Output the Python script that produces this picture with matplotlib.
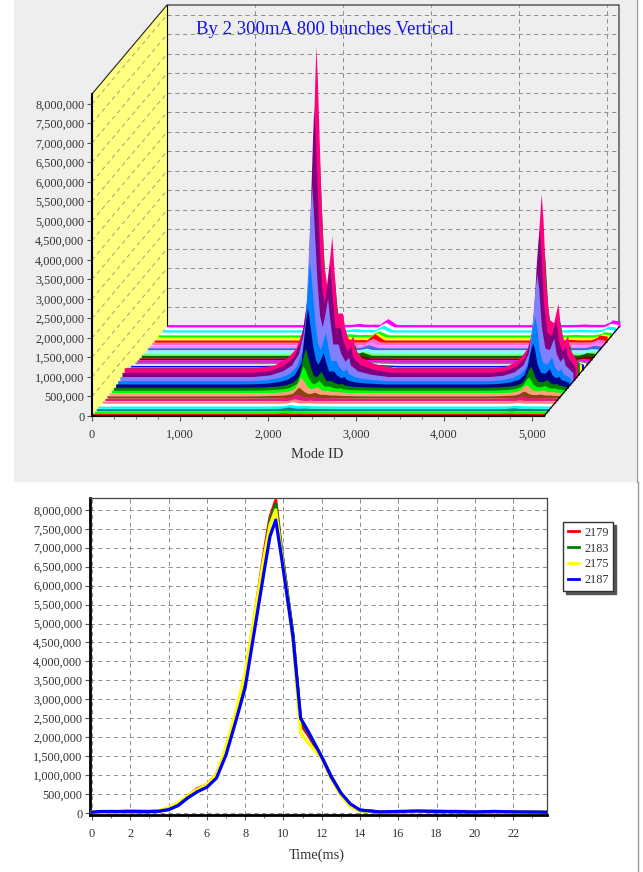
import matplotlib
matplotlib.use("Agg")
import matplotlib.pyplot as plt
from matplotlib.patches import Rectangle, Polygon
from matplotlib.lines import Line2D
from matplotlib.ticker import MultipleLocator, FuncFormatter

plt.rcParams['font.family'] = ['Liberation Serif', 'DejaVu Serif']

W, H = 643, 872

# ---------- top chart data ----------
title_text = "By 2 300mA 800 bunches Vertical"
mode_label = "Mode ID"
shape_modes = [0, 1500, 1700, 1850, 1950, 2030, 2080, 2110, 2140, 2165, 2179, 2195, 2215, 2240, 2270,
               2300, 2335, 2360, 2385, 2420, 2450, 2480, 2510, 2560, 2600, 2620, 2700, 2850, 3050,
               4200, 4350, 4480, 4580, 4640, 4680, 4710, 4739, 4760, 4790, 4830, 4880, 4930, 4960,
               5000, 5040, 5060, 5148]
shape_values = [0, 0, .008, .03, .06, .12, .22, .30, .62, .88, 1.0, .90, .72, .50, .32,
                .26, .34, .41, .30, .17, .17, .17, .12, .08, .1, .06, .03, .012, 0,
                0, .006, .025, .06, .12, .24, .42, .54, .46, .26, .15, .14, .2, .12,
                .08, .1, .06, .02]
# small ridge seen in the rear slices
bump_values = [0, 0, 0, 0, 0, 0, 0, 0, 0, 0, 0, 0, 0, 0, 0,
               0, 0, 0, 0, 0, .4, .7, 1.0, .5, .1, 0, 0, 0, 0,
               0, 0, 0, 0, 0, 0, 0, 0, 0, 0, 0, 0, 0, 0,
               .2, .5, .8, .6]
# one entry per slice, front to back
slice_peaks = [.02e6, .03e6, .04e6, .04e6, .05e6, .06e6, .12e6, .22e6, .40e6, .62e6, 1.0e6, 1.95e6,
               3.05e6, 4.9e6, 6.8e6, 8.25e6, 5.9e6, 3.2e6, 1.5e6, 1.0e6, .4e6, .1e6, .05e6, .04e6,
               .04e6, .04e6, .03e6, .03e6, .03e6, .03e6, .03e6, .03e6, .03e6, .03e6, .03e6, .03e6]
slice_floors = [62e3, 58e3, 58e3, 58e3, 55e3, 58e3, 62e3, 62e3, 70e3, 75e3, 85e3, 105e3,
                125e3, 165e3, 205e3, 260e3, 205e3, 150e3, 125e3, 100e3, 80e3, 70e3, 60e3, 60e3,
                58e3, 55e3, 58e3, 58e3, 58e3, 58e3, 58e3, 58e3, 55e3, 58e3, 55e3, 62e3]
slice_bumps = [0, 0, 0, 0, 0, 0, 0, 0, 0, 0, 0, 0,
               0, 0, 0, 0, 0, 0, 0, 0, 20e3, 40e3, 60e3, 80e3,
               40e3, 50e3, 70e3, 90e3, 110e3, 160e3, 120e3, 100e3, 110e3, 120e3, 130e3, 150e3]
slice_colors = ['#ff0000', '#00ff00', '#008080', '#00ffff', '#ffffff', '#ff8080', '#e6197f', '#8b4513',
                '#ffa07a', '#00ff00', '#008000', '#000080', '#0080ff', '#8080ff', '#800080', '#ff0080',
                '#008000', '#ffff00', '#0000ff', '#ffffff', '#808080', '#ff00ff', '#800000', '#006400',
                '#80ff80', '#80ffff', '#4169e1', '#ff80ff', '#ff66cc', '#ff0000', '#ffff00', '#00ff00',
                '#ffffff', '#00ffff', '#ffffff', '#ff00ff']

# ---------- bottom chart data ----------
time_label = "Time(ms)"
times = [0, .5, 1, 2, 3, 3.5, 4, 4.5, 5, 5.5, 6, 6.5, 7, 7.5, 8, 8.5, 9, 9.3, 9.6, 9.9, 10.5, 10.9, 11.3,
         12, 12.5, 13, 13.5, 14, 15, 16, 17, 18, 19, 20, 21, 22, 23, 23.7]
s2179 = [.02, .03, .03, .05, .04, .05, .10, .22, .44, .64, .74, 1.02, 1.65, 2.55, 3.6, 5.2, 6.9, 7.8, 8.25,
         6.95, 4.7, 2.35, 2.05, 1.48, .96, .52, .2, .07, .03, .03, .05, .03, .04, .03, .03, .04, .03, .02]
s2183 = [.02, .03, .04, .03, .03, .05, .09, .2, .4, .58, .7, .95, 1.6, 2.45, 3.45, 5.05, 6.75, 7.7, 8.15,
         6.95, 4.7, 2.45, 2.12, 1.48, .96, .52, .2, .07, .03, .04, .04, .05, .03, .03, .04, .03, .03, .02]
s2175 = [.02, .02, .03, .03, .05, .07, .14, .27, .46, .62, .75, 1.02, 1.75, 2.65, 3.7, 5.25, 6.8, 7.6, 8.0,
         6.85, 4.55, 2.1, 1.85, 1.44, .9, .47, .16, .06, .03, .03, .03, .04, .05, .04, .03, .03, .04, .02]
s2187 = [.02, .04, .04, .04, .04, .05, .09, .2, .4, .56, .68, .92, 1.53, 2.4, 3.3, 4.85, 6.4, 7.3, 7.73,
         6.75, 4.64, 2.5, 2.15, 1.48, .95, .53, .24, .08, .03, .04, .05, .04, .04, .03, .04, .03, .03, .02]
line_series = [("2179", s2179, '#ff0000'), ("2183", s2183, '#008000'),
               ("2175", s2175, '#ffff00'), ("2187", s2187, '#0000ff')]


def fx(px):
    return px / W


def fy(py):
    return 1 - py / H


def add_axes(l, t, r, b):
    return fig.add_axes([fx(l), fy(b), fx(r) - fx(l), fy(t) - fy(b)])


fig = plt.figure(figsize=(W / 100, H / 100), dpi=100, facecolor='white')
fig.add_artist(Rectangle((fx(14), fy(482)), fx(636) - fx(14), fy(0) - fy(482), transform=fig.transFigure,
                         facecolor='#EEEEEE', edgecolor='none', zorder=-5))
fig.add_artist(Line2D([fx(636.5)] * 2, [fy(0), fy(482)], color='#9a9a9a', lw=1, transform=fig.transFigure))
fig.add_artist(Line2D([fx(637.5)] * 2, [fy(482), fy(872)], color='#9a9a9a', lw=1, transform=fig.transFigure))

# ---------- top chart ----------
ax = add_axes(92, 94, 544, 416)
ax.patch.set_alpha(0)
x_max = 452 / 88 * 1000
y_per_px = 1e6 / 39
y_max = 322 * y_per_px
ax.set_xlim(0, x_max)
ax.set_ylim(0, y_max)
dx = 75 / 88 * 1000
dy = 89 * y_per_px

gridc = '#8f8f8f'
dash = (0, (4.2, 3.6))
glw = .72
# back wall grid
for v in range(0, 8500000, 500000):
    ax.plot([dx, x_max + dx], [v + dy, v + dy], color=gridc, lw=glw, ls=dash, clip_on=False, zorder=1)
for m in range(0, 6000, 1000):
    ax.plot([m + dx, m + dx], [dy, y_max + dy], color=gridc, lw=glw, ls=dash, clip_on=False, zorder=1)
# side wall
ax.add_patch(Polygon([(0, 0), (0, y_max), (dx, y_max + dy), (dx, dy)], closed=True, facecolor='#FFFF80',
                     edgecolor='none', clip_on=False, zorder=1))
for v in range(0, 8500000, 500000):
    ax.plot([0, dx], [v, v + dy], color='#a8a878', lw=glw, ls=dash, clip_on=False, zorder=2)
# walls outline
ax.plot([dx, dx], [dy, y_max + dy], color='black', lw=.8, clip_on=False, zorder=2)
ax.plot([0, dx, x_max + dx, x_max + dx], [y_max, y_max + dy, y_max + dy, dy], color='#202020', lw=.8,
        clip_on=False, zorder=2)
# white floor showing between the slices
ax.add_patch(Polygon([(0, 0), (x_max, 0), (x_max + dx, dy), (dx, dy)], closed=True, facecolor='white',
                     edgecolor='none', clip_on=False, zorder=2.5))

# waterfall slices, painted back to front
n = len(slice_peaks)
for i in reversed(range(n)):
    d = i / (n - 1)
    xs = [m + d * dx for m in shape_modes]
    ys = [d * dy + slice_floors[i] + slice_peaks[i] * s + slice_bumps[i] * b
          for s, b in zip(shape_values, bump_values)]
    ax.fill_between(xs, d * dy, ys, color=slice_colors[i], lw=0, clip_on=False, zorder=3 + (n - i) * .01)

ax.plot([x_max, x_max + dx], [0, dy], color='black', lw=.9, clip_on=False, zorder=5)

for s in ('top', 'right'):
    ax.spines[s].set_visible(False)
for s in ('left', 'bottom'):
    ax.spines[s].set_linewidth(1.5)
    ax.spines[s].set_zorder(6)
ax.xaxis.set_major_locator(MultipleLocator(1000))
ax.xaxis.set_minor_locator(MultipleLocator(250))
ax.yaxis.set_major_locator(MultipleLocator(500000))
fmt = FuncFormatter(lambda v, p: f"{int(round(v)):,}")
ax.xaxis.set_major_formatter(fmt)
ax.yaxis.set_major_formatter(fmt)
ax.tick_params(axis='both', which='major', labelsize=8.8, length=3.5, width=.8, color='#555555',
               labelcolor='#333333', pad=2)
ax.tick_params(axis='x', which='minor', length=2, width=.8, color='#777777')
ax.tick_params(axis='x', which='major', pad=5.5)
ax.set_xlabel(mode_label, fontsize=10.4, color='#333333')
ax.xaxis.set_label_coords(.498, -.098)
fig.text(fx(196), fy(29), title_text, color='#1010ee', fontsize=13.5, va='center', ha='left')

# ---------- bottom chart ----------
bx = add_axes(90, 498, 547, 815)
px_per_ms = 19.14
px_per_M = 37.9
bx.set_xlim(-2 / px_per_ms, 455 / px_per_ms)
bx.set_ylim(-2 / px_per_M * 1e6, 315 / px_per_M * 1e6)
bx.grid(True, which='major', color=gridc, lw=glw, ls=dash)
bx.set_axisbelow(True)
for name, vals, col in line_series:
    bx.plot(times, [v * 1e6 for v in vals], color=col, lw=2.3, label=name, solid_joinstyle='round', zorder=3)
bx.xaxis.set_major_locator(MultipleLocator(2))
bx.xaxis.set_minor_locator(MultipleLocator(1))
bx.yaxis.set_major_locator(MultipleLocator(500000))
bx.yaxis.set_major_formatter(fmt)
bx.tick_params(axis='both', which='major', labelsize=8.8, length=3.5, width=.8, color='#555555',
               labelcolor='#333333', pad=2)
bx.tick_params(axis='x', which='minor', length=2, width=.8, color='#777777')
bx.tick_params(axis='x', which='major', pad=5.5)
for s in ('left', 'bottom'):
    bx.spines[s].set_linewidth(2)
    bx.spines[s].set_color('black')
for s in ('top', 'right'):
    bx.spines[s].set_linewidth(.9)
    bx.spines[s].set_color('#444444')
bx.set_xlabel(time_label, fontsize=10.4, color='#333333')
bx.xaxis.set_label_coords(.497, -.105)
leg = bx.legend(loc='upper left', bbox_to_anchor=(fx(563), fy(522)), bbox_transform=fig.transFigure,
                fontsize=8.8, fancybox=False, framealpha=1, edgecolor='#333333', borderaxespad=0,
                shadow={'color': '#555555', 'alpha': 1}, handlelength=.9, handletextpad=.45, labelspacing=.32,
                borderpad=.38, labelcolor='#333333')
leg.get_frame().set_linewidth(1)
for h in leg.get_lines():
    h.set_linewidth(2)

fig.savefig('out.png', dpi=100, facecolor='white')
